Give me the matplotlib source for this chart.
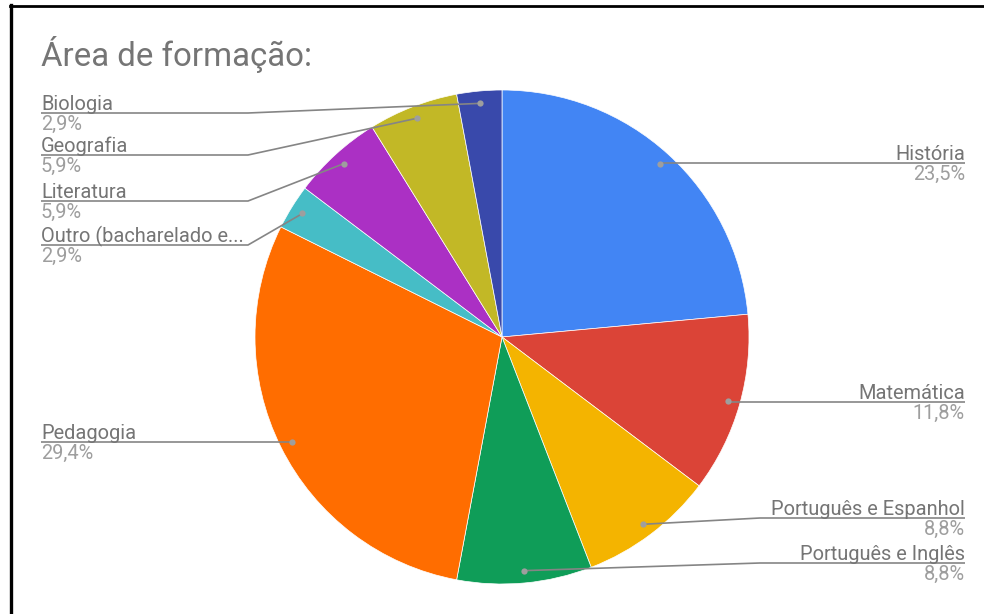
import matplotlib.pyplot as plt
from matplotlib.lines import Line2D
import numpy as np

categories = [
    "História", "Matemática", "Português e Espanhol", "Português e Inglês",
    "Pedagogia", "Outro (bacharelado e...", "Literatura", "Geografia", "Biologia",
]
counts = [8, 4, 3, 3, 10, 1, 2, 2, 1]
colors = [
    "#4285F4", "#DB4437", "#F4B400", "#0F9D58", "#FF6D00",
    "#46BDC6", "#AB30C4", "#C2B826", "#3949AB",
]

# label layout: side and y of the underline (pixels from top)
label_side = ["right", "right", "right", "right", "left", "left", "left", "left", "left"]
label_y = [163, 402, 518, 563, 442, 245, 201, 155, 113]

W, H = 984, 614
CX, CY, R = 502, 337, 247
NAME_C, PCT_C, LINE_C = "#757575", "#9E9E9E", "#858585"
FONT = "Roboto"
FS = 14.4

fig = plt.figure(figsize=(W / 100, H / 100), dpi=100)
ax = fig.add_axes([0, 0, 1, 1])
wedges, _ = ax.pie(
    counts, colors=colors, center=(CX, CY), radius=R,
    startangle=-90, counterclock=True,
    wedgeprops=dict(edgecolor="white", linewidth=0.5),
)
ax.set_xlim(0, W)
ax.set_ylim(H, 0)
ax.set_aspect("equal")
ax.axis("off")

total = sum(counts)
for w, name, n, side, ly in zip(wedges, categories, counts, label_side, label_y):
    mid = np.deg2rad((w.theta1 + w.theta2) / 2)
    dx, dy = CX + 0.95 * R * np.cos(mid), CY + 0.95 * R * np.sin(mid)
    pct = f"{n / total * 100:.1f}%".replace(".", ",")
    if side == "right":
        elbow, end, ha = 760, 965, "right"
    else:
        elbow, end, ha = 248, 41, "left"
    if abs(dy - ly) < 4:
        xs, ys = [dx, end], [ly, ly]
    else:
        xs, ys = [dx, elbow, end], [dy, ly, ly]
    ax.plot(xs, ys, color=LINE_C, lw=1.2, solid_capstyle="butt", zorder=3)
    ax.plot(dx, dy, "o", ms=4.5, color="#9E9E9E", mec="none", zorder=4)
    ax.text(end, ly - 3, name, ha=ha, va="baseline", fontsize=FS,
            color=NAME_C, family=FONT)
    ax.text(end, ly + 2, pct, ha=ha, va="top", fontsize=FS,
            color=PCT_C, family=FONT)

ax.text(41, 66, "Área de formação:", ha="left", va="baseline",
        fontsize=23.8, color=NAME_C, family=FONT)

# screenshot frame (left and top edges)
fig.add_artist(Line2D([10.5 / W, 10.5 / W], [0, 1 - 5 / H], color="black",
                      lw=2.4, transform=fig.transFigure))
fig.add_artist(Line2D([10 / W, 1], [1 - 5.5 / H, 1 - 5.5 / H], color="black",
                      lw=2, transform=fig.transFigure))

fig.savefig("out.png", dpi=100)
